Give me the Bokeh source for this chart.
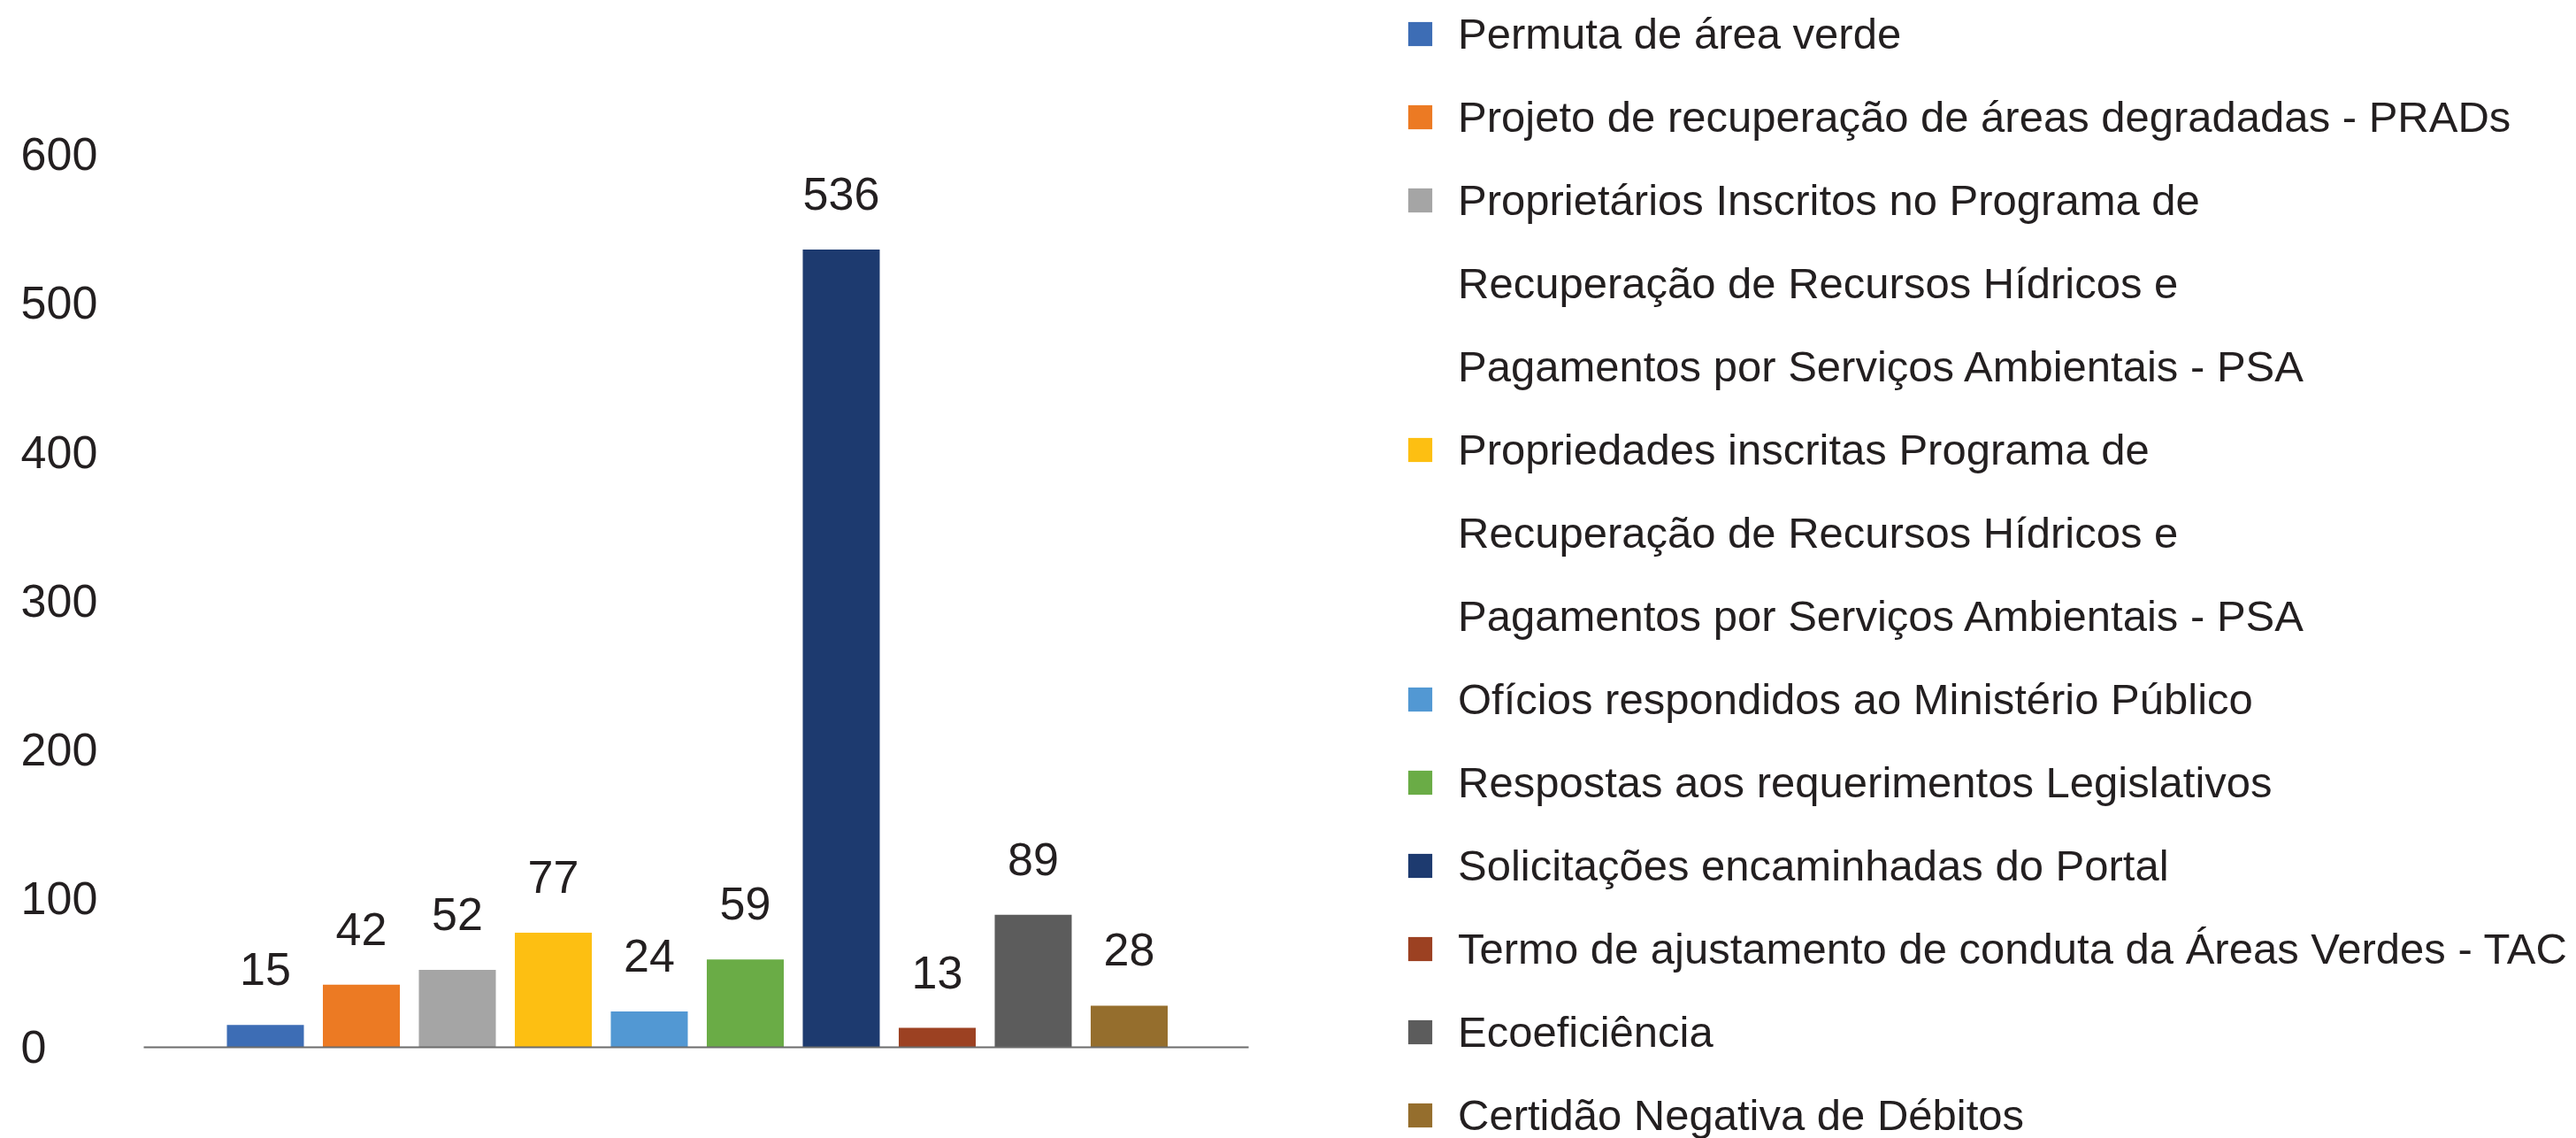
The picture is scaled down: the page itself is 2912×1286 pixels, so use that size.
from bokeh.plotting import figure
from bokeh.models import ColumnDataSource, Range1d, FixedTicker, Legend, LegendItem
from bokeh.embed import file_html
from bokeh.resources import INLINE
from bokeh.core.properties import value

# ---------------- data ----------------
categories = [
    "Permuta de área verde",
    "Projeto de recuperação de áreas degradadas - PRADs",
    "Proprietários Inscritos no Programa de Recuperação de Recursos Hídricos e Pagamentos por Serviços Ambientais - PSA",
    "Propriedades inscritas Programa de Recuperação de Recursos Hídricos e Pagamentos por Serviços Ambientais - PSA",
    "Ofícios respondidos ao Ministério Público",
    "Respostas aos requerimentos Legislativos",
    "Solicitações encaminhadas do Portal",
    "Termo de ajustamento de conduta da Áreas Verdes - TAC",
    "Ecoeficiência",
    "Certidão Negativa de Débitos",
]
values = [15, 42, 52, 77, 24, 59, 536, 13, 89, 28]
colors = ["#3d6db5", "#ec7a23", "#a5a5a5", "#fdbf12", "#5298d3",
          "#6aac46", "#1d3a6f", "#9c4122", "#5c5c5c", "#956e2d"]
y_ticks = [0, 100, 200, 300, 400, 500, 600]
y_tick_labels = [str(t) for t in y_ticks]

# legend lines as shown (wrapped), with the category index (None = continuation line)
legend_lines = [
    ("Permuta de área verde", 0),
    ("Projeto de recuperação de áreas degradadas - PRADs", 1),
    ("Proprietários Inscritos no Programa de", 2),
    ("Recuperação de Recursos Hídricos e", None),
    ("Pagamentos por Serviços Ambientais - PSA", None),
    ("Propriedades inscritas Programa de", 3),
    ("Recuperação de Recursos Hídricos e", None),
    ("Pagamentos por Serviços Ambientais - PSA", None),
    ("Ofícios respondidos ao Ministério Público", 4),
    ("Respostas aos requerimentos Legislativos", 5),
    ("Solicitações encaminhadas do Portal", 6),
    ("Termo de ajustamento de conduta da Áreas Verdes - TAC", 7),
    ("Ecoeficiência", 8),
    ("Certidão Negativa de Débitos", 9),
]

FONT = "Liberation Sans"
TEXT_COLOR = "#231f20"
Y_LABEL_X = -2.548          # left edge of the value-axis labels (x units)

# ---------------- figure ----------------
p = figure(
    width=2912, height=1286,
    x_range=Range1d(-2.7604, 24.079),
    y_range=Range1d(-61.24, 703.3),
    output_backend="svg", toolbar_location=None,
    min_border_left=0, min_border_right=0, min_border_top=0, min_border_bottom=0,
)
p.outline_line_color = None
p.xgrid.visible = False
p.ygrid.visible = False
p.yaxis.visible = False
p.background_fill_color = "white"
p.border_fill_color = "white"

# x axis: only the baseline at y = 0
xa = p.xaxis[0]
xa.fixed_location = 0
xa.ticker = FixedTicker(ticks=[])
xa.major_tick_line_color = None
xa.minor_tick_line_color = None
xa.major_label_text_font_size = "0px"
xa.axis_line_color = "#6d6d6d"
xa.axis_line_width = 2
xa.bounds = (-1.267, 10.244)

# value-axis tick labels (left aligned, as in the reference)
tick_src = ColumnDataSource(dict(
    x=[Y_LABEL_X] * len(y_ticks), y=y_ticks, text=y_tick_labels))
p.text(x="x", y="y", text="text", source=tick_src,
       text_align="left", text_baseline="middle",
       text_font=value(FONT), text_font_size="52px", text_color=TEXT_COLOR)

src = ColumnDataSource(dict(
    x=list(range(len(categories))),
    top=values,
    color=colors,
    label=[str(v) for v in values],
))

bars = p.vbar(x="x", top="top", width=0.802, fill_color="color",
              line_color=None, source=src)
p.text(x="x", y="top", text="label", source=src, y_offset=-63,
       text_align="center", text_baseline="middle",
       text_font=value(FONT), text_font_size="52px", text_color=TEXT_COLOR)

dummy = p.vbar(x=[], top=[], width=0.8, fill_alpha=0, line_alpha=0)

items = []
for txt, idx in legend_lines:
    if idx is None:
        items.append(LegendItem(label=txt, renderers=[dummy]))
    else:
        items.append(LegendItem(label=txt, renderers=[bars], index=idx))

legend = Legend(
    items=items, location=(1588, -4),
    glyph_width=34, glyph_height=34, label_standoff=26,
    label_height=60, spacing=34, padding=0, margin=0,
    border_line_color=None, background_fill_alpha=0,
    label_text_font=FONT, label_text_font_size="49px",
    label_text_color=TEXT_COLOR,
)
p.add_layout(legend)

open("out.html", "w").write(file_html(p, INLINE))
